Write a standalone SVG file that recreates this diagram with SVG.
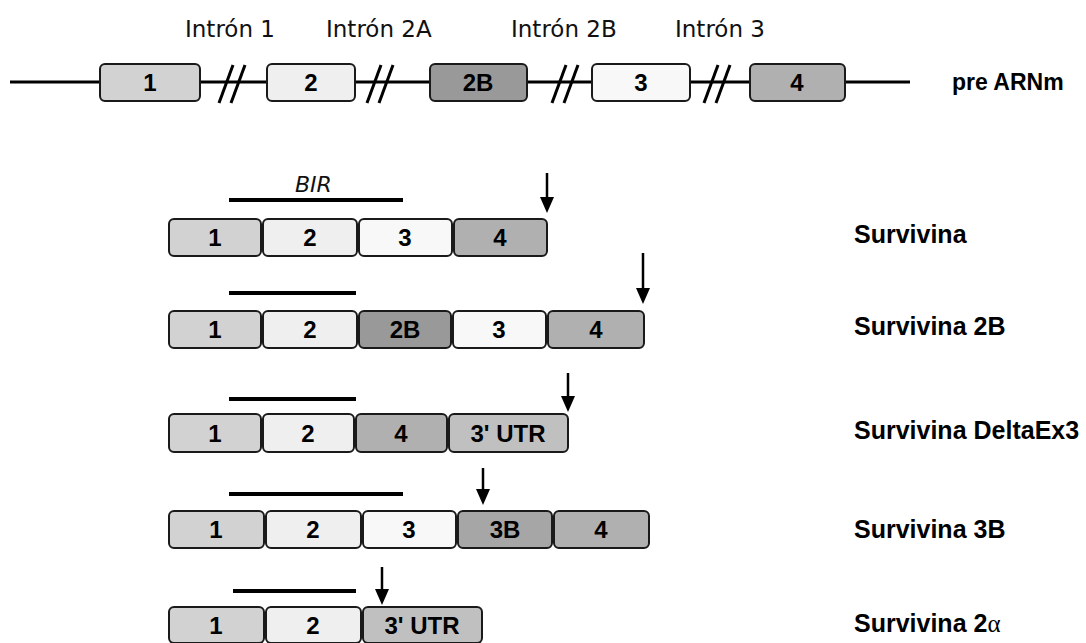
<svg xmlns="http://www.w3.org/2000/svg" width="1086" height="643" viewBox="0 0 1086 643">
<style>
.ex{stroke:#1a1a1a;stroke-width:2}
.e1{fill:#d2d2d2}.e2{fill:#efefef}.e3{fill:#f8f8f8}.e2b{fill:#999999}.e3b{fill:#a6a6a6}.e4{fill:#b0b0b0}.utr{fill:#c0c0c0}
.num{font-family:"Liberation Sans",Arial,sans-serif;font-weight:bold;font-size:24px;text-anchor:middle;fill:#000}
.lab{font-family:"Liberation Sans",Arial,sans-serif;font-weight:bold;font-size:25px;fill:#000}
.intr{font-family:"DejaVu Sans",sans-serif;font-size:23px;fill:#111}
.bir{stroke:#000;stroke-width:4}
.shaft{stroke:#000;stroke-width:2.5}
.head{fill:#000}
</style>
<rect width="1086" height="643" fill="#fff"/>

<g id="intron-labels">
<text class="intr" x="185" y="37">Intrón 1</text>
<text class="intr" x="326" y="37">Intrón 2A</text>
<text class="intr" x="511" y="37">Intrón 2B</text>
<text class="intr" x="675" y="37">Intrón 3</text>
</g>

<g id="backbone" stroke="#000" stroke-width="3" fill="none">
<line x1="10" y1="82" x2="910" y2="82"/>
<line x1="219" y1="103" x2="233" y2="65"/><line x1="231" y1="103" x2="245" y2="65"/>
<line x1="367" y1="103" x2="381" y2="65"/><line x1="379" y1="103" x2="393" y2="65"/>
<line x1="552" y1="103" x2="566" y2="65"/><line x1="564" y1="103" x2="578" y2="65"/>
<line x1="704" y1="103" x2="718" y2="65"/><line x1="716" y1="103" x2="730" y2="65"/>
</g>
<g id="pre-ex1"><rect class="ex e1" x="100" y="64" width="100" height="37" rx="5"/><text class="num" x="150" y="91">1</text></g>
<g id="pre-ex2"><rect class="ex e2" x="267" y="64" width="88" height="37" rx="5"/><text class="num" x="311" y="91">2</text></g>
<g id="pre-ex2b"><rect class="ex e2b" x="430" y="64" width="97" height="37" rx="5"/><text class="num" x="478" y="91">2B</text></g>
<g id="pre-ex3"><rect class="ex e3" x="592" y="64" width="98" height="37" rx="5"/><text class="num" x="641" y="91">3</text></g>
<g id="pre-ex4"><rect class="ex e4" x="750" y="64" width="95" height="37" rx="5"/><text class="num" x="797" y="91">4</text></g>
<text class="lab" x="952" y="90" style="font-size:23px">pre ARNm</text>

<g id="bir">
<text x="295" y="192" style="font-family:'DejaVu Sans',sans-serif;font-style:italic;font-size:22px" fill="#111">BIR</text>
<line class="bir" x1="229" y1="200" x2="403" y2="200"/>
<line class="bir" x1="229" y1="293" x2="356" y2="293"/>
<line class="bir" x1="229" y1="399" x2="356" y2="399"/>
<line class="bir" x1="229" y1="494" x2="403" y2="494"/>
<line class="bir" x1="233" y1="591" x2="356" y2="591"/>
</g>

<g id="r1-ex1"><rect class="ex e1" x="169" y="219" width="92" height="37" rx="5"/><text class="num" x="215" y="246">1</text></g>
<g id="r1-ex2"><rect class="ex e2" x="263" y="219" width="94" height="37" rx="5"/><text class="num" x="310" y="246">2</text></g>
<g id="r1-ex3"><rect class="ex e3" x="359" y="219" width="93" height="37" rx="5"/><text class="num" x="405" y="246">3</text></g>
<g id="r1-ex4"><rect class="ex e4" x="454" y="219" width="93" height="37" rx="5"/><text class="num" x="500" y="246">4</text></g>
<text class="lab" x="854" y="243">Survivina</text>

<g id="r2-ex1"><rect class="ex e1" x="169" y="311" width="92" height="37" rx="5"/><text class="num" x="215" y="338">1</text></g>
<g id="r2-ex2"><rect class="ex e2" x="263" y="311" width="94" height="37" rx="5"/><text class="num" x="310" y="338">2</text></g>
<g id="r2-ex2b"><rect class="ex e2b" x="359" y="311" width="92" height="37" rx="5"/><text class="num" x="405" y="338">2B</text></g>
<g id="r2-ex3"><rect class="ex e3" x="453" y="311" width="93" height="37" rx="5"/><text class="num" x="499" y="338">3</text></g>
<g id="r2-ex4"><rect class="ex e4" x="548" y="311" width="96" height="37" rx="5"/><text class="num" x="596" y="338">4</text></g>
<text class="lab" x="854" y="335">Survivina 2B</text>

<g id="r3-ex1"><rect class="ex e1" x="169" y="414" width="92" height="38" rx="5"/><text class="num" x="215" y="442">1</text></g>
<g id="r3-ex2"><rect class="ex e2" x="263" y="414" width="91" height="38" rx="5"/><text class="num" x="308" y="442">2</text></g>
<g id="r3-ex4"><rect class="ex e4" x="356" y="414" width="91" height="38" rx="5"/><text class="num" x="401" y="442">4</text></g>
<g id="r3-utr"><rect class="ex utr" x="449" y="414" width="119" height="38" rx="5"/><text class="num" x="508" y="442">3' UTR</text></g>
<text class="lab" x="854" y="439">Survivina DeltaEx3</text>

<g id="r4-ex1"><rect class="ex e1" x="169" y="511" width="95" height="37" rx="5"/><text class="num" x="216" y="538">1</text></g>
<g id="r4-ex2"><rect class="ex e2" x="266" y="511" width="95" height="37" rx="5"/><text class="num" x="313" y="538">2</text></g>
<g id="r4-ex3"><rect class="ex e3" x="363" y="511" width="93" height="37" rx="5"/><text class="num" x="409" y="538">3</text></g>
<g id="r4-ex3b"><rect class="ex e3b" x="458" y="511" width="94" height="37" rx="5"/><text class="num" x="505" y="538">3B</text></g>
<g id="r4-ex4"><rect class="ex e4" x="554" y="511" width="95" height="37" rx="5"/><text class="num" x="601" y="538">4</text></g>
<text class="lab" x="854" y="538">Survivina 3B</text>

<g id="r5-ex1"><rect class="ex e1" x="169" y="607" width="95" height="36" rx="5"/><text class="num" x="216" y="634">1</text></g>
<g id="r5-ex2"><rect class="ex e2" x="266" y="607" width="95" height="36" rx="5"/><text class="num" x="313" y="634">2</text></g>
<g id="r5-utr"><rect class="ex utr" x="363" y="607" width="119" height="36" rx="5"/><text class="num" x="422" y="634">3' UTR</text></g>
<text class="lab" x="854" y="632">Survivina 2<tspan style="font-family:'Liberation Serif','Times New Roman',serif;font-weight:normal">α</tspan></text>

<g id="connectors">
<line class="shaft" x1="547" y1="173" x2="547" y2="199"/><polygon class="head" points="540,197 554,197 547,213"/>
<line class="shaft" x1="643" y1="253" x2="643" y2="290"/><polygon class="head" points="636,288 650,288 643,304"/>
<line class="shaft" x1="568" y1="373" x2="568" y2="398"/><polygon class="head" points="561,396 575,396 568,412"/>
<line class="shaft" x1="483" y1="468" x2="483" y2="491"/><polygon class="head" points="476,489 490,489 483,505"/>
<line class="shaft" x1="382" y1="567" x2="382" y2="591"/><polygon class="head" points="375,589 389,589 382,605"/>
</g>
</svg>
